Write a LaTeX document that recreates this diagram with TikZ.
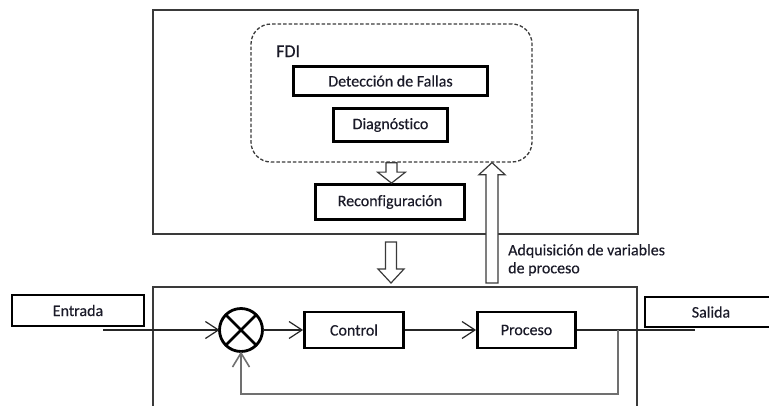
\documentclass[tikz,border=0pt]{standalone}
\usepackage{fontspec}
\setmainfont{Carlito}[Ligatures=NoCommon, FakeBold=0.4]
\usetikzlibrary{arrows.meta,calc}

\definecolor{txt}{HTML}{1A1A28}
\definecolor{frame}{HTML}{3A3A3A}
\definecolor{fbgray}{HTML}{707070}

% hollow block arrow from #1 (tail) to #2 (tip); #3 shaft half width,
% #4 head half width, #5 signed head length (positive points downwards)
\newcommand\hollowarrow[5]{%
  \draw[blockline] ($(#1)+({-#3},0)$) -- ($(#2)+({-#3},{-(#5)})$)
    -- ($(#2)+({-#4},{-(#5)})$) -- (#2) -- ($(#2)+({#4},{-(#5)})$)
    -- ($(#2)+({#3},{-(#5)})$) -- ($(#1)+({#3},0)$) -- cycle;}

\begin{document}
\begin{tikzpicture}[x=1pt,y=-1pt,
  font=\fontsize{16}{18}\selectfont, text=txt,
  frame/.style={draw=frame, line width=1.2pt, inner sep=0pt},
  thickbox/.style={draw=black, line width=2.8pt, inner sep=0pt},
  iobox/.style={draw=black, line width=1.3pt, inner sep=0pt},
  fdibox/.style={draw=frame, line width=1.3pt, dash pattern=on 3.5pt off 2pt,
    rounded corners=20pt, inner sep=0pt},
  blockline/.style={draw=frame, line width=1.2pt, fill=white},
  sig/.style={draw=black!85, line width=1.2pt,
    -{Straight Barb[length=13pt,width=17pt,line width=1.2pt]}},
  feedback/.style={draw=fbgray, line width=2pt,
    -{Straight Barb[length=14pt,width=17pt,line width=1.6pt]}},
  wire/.style={draw=black!85, line width=1.2pt},
]
\useasboundingbox (0,0) rectangle (769,405);
\clip (0,0) rectangle (769,405);

% supervision level
\node[frame, minimum width=485pt, minimum height=224pt] (top) at (395.5,122) {};
\node[fdibox, minimum width=281pt, minimum height=138pt] (fdi) at (391.5,93) {};
\node[anchor=base west, inner sep=0pt, font=\fontsize{18}{20}\selectfont] (fdilabel) at (276,57) {FDI};
\node[thickbox, minimum width=194pt, minimum height=29pt] (det) at (390.5,81) {Detección de Fallas};
\node[thickbox, minimum width=114pt, minimum height=33pt] (diag) at (390.5,125) {Diagnóstico};
\node[thickbox, minimum width=149pt, minimum height=35pt] (reconf) at (390,202) {Reconfiguración};

% control loop level
\node[frame, minimum width=484pt, minimum height=140pt] (loop) at (395,357) {};
\node[iobox, minimum width=132pt, minimum height=31pt] (entrada) at (78,310.5) {Entrada};
\node[iobox, minimum width=132pt, minimum height=30pt] (salida) at (711,312) {Salida};
\node[draw=black, line width=2.8pt, circle, minimum size=43pt, inner sep=0pt, outer sep=0pt] (sum) at (241,330) {};
\draw[line width=2.8pt] (sum.north west) -- (sum.south east);
\draw[line width=2.8pt] (sum.north east) -- (sum.south west);
\node[thickbox, minimum width=99pt, minimum height=36pt] (ctrl) at (354,330) {Control};
\node[thickbox, minimum width=98pt, minimum height=36pt] (proc) at (526.5,330) {Proceso};

% signal paths
\coordinate (inp) at (103,330);
\coordinate (outp) at (695,330);
\coordinate (fb) at (618,330);
\draw[sig] (inp) -- (sum.west);
\draw[sig] (sum.east) -- (ctrl.west);
\draw[sig] (ctrl.east) -- (proc.west);
\draw[wire] (proc.east) -- (outp);
\draw[feedback] (fb) -- ++(0,64) -| (sum.south);

% block arrows between the levels
\coordinate (dtop) at (391,242);
\coordinate (dtip) at (391,283);
\coordinate (utail) at (492,283);
\coordinate (utip) at (utail |- fdi.south);
\coordinate (rtip) at (fdi.south |- reconf.north);
\hollowarrow{fdi.south}{rtip}{5.5}{14}{11}
\hollowarrow{dtop}{dtip}{5.5}{13}{14}
\hollowarrow{utail}{utip}{6}{13}{-12}

\node[anchor=north west, inner sep=0pt, align=left] (acq) at (508,244)
  {Adquisición de variables\\de proceso};
\end{tikzpicture}
\end{document}
